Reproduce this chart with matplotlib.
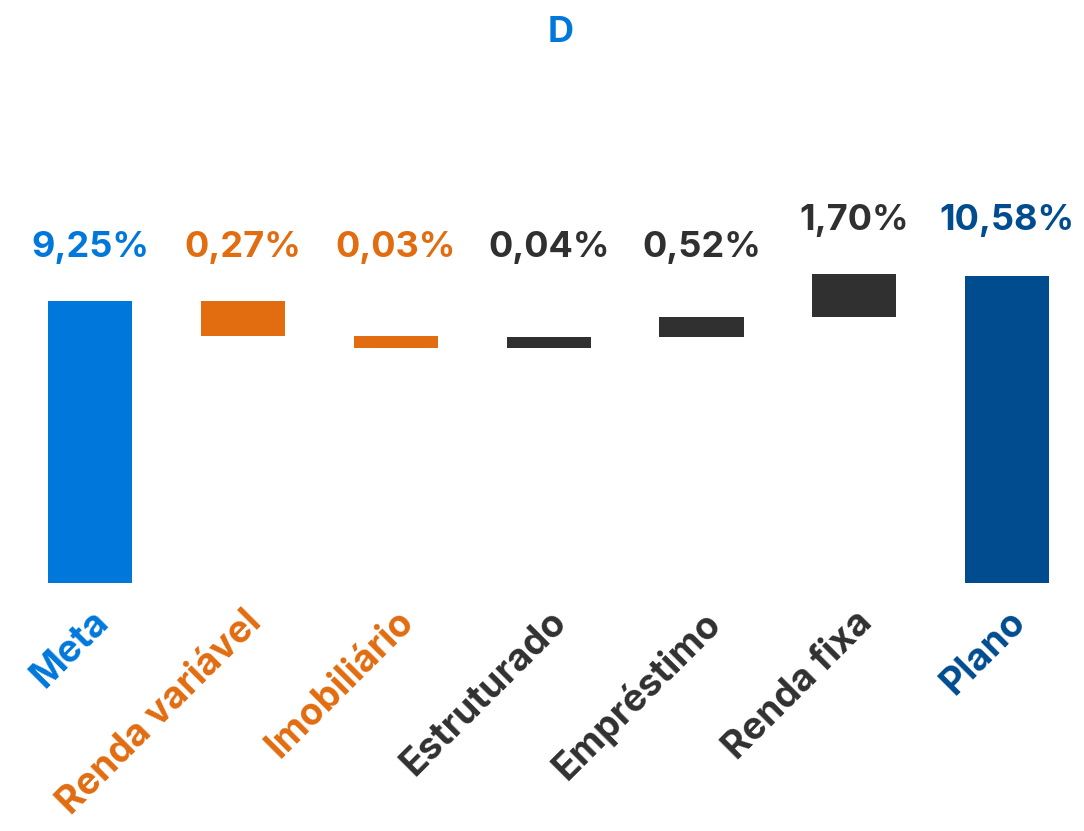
import matplotlib.pyplot as plt
import numpy as np

# ----- data -----
categories = ["Meta", "Renda variável", "Imobiliário", "Estruturado",
              "Empréstimo", "Renda fixa", "Plano"]
value_labels = ["9,25%", "0,27%", "0,03%", "0,04%", "0,52%", "1,70%", "10,58%"]
meta_bar = 9.25
steps = [-1.16, -0.37, 0.34, 0.67, 1.39]   # bar heights as drawn
plano_bar = 10.07
colors = ["#0077DB", "#E26C10", "#E26C10", "#303030", "#303030", "#303030", "#004C8F"]

plt.rcParams['font.family'] = ['Inter', 'DejaVu Sans']
plt.rcParams['font.weight'] = 'bold'

fig = plt.figure(figsize=(10.84, 8.31), dpi=100)
ax = fig.add_axes([0, 248 / 831, 1, 583 / 831])

x = np.arange(len(categories))
bottoms = [0]
heights = [meta_bar]
level = meta_bar
for s in steps:
    bottoms.append(min(level, level + s))
    heights.append(abs(s))
    level += s
bottoms.append(0)
heights.append(plano_bar)

ax.bar(x, heights, bottom=bottoms, width=0.55, color=colors)

# labels above the highest bar reached so far
tops = [b + h for b, h in zip(bottoms, heights)]
run_max = np.maximum.accumulate(tops)
for xi, yi, txt, c in zip(x, run_max, value_labels, colors):
    ax.annotate(txt, (xi, yi), xytext=(0, 32), textcoords="offset points",
                ha="center", va="baseline", fontsize=26, color=c, fontweight="bold")

ax.set_xlim(-90.3 / 152.8, (1084 - 90.3) / 152.8)
ax.set_ylim(0, 583 / 30.49)
ax.set_xticks(x)
ax.set_xticklabels(categories, rotation=45, ha="right", va="top",
                   rotation_mode="anchor", fontsize=27, fontweight="bold")
for lab, c in zip(ax.get_xticklabels(), colors):
    lab.set_color(c)
ax.tick_params(axis="x", length=0, pad=15)
ax.set_yticks([])
for sp in ax.spines.values():
    sp.set_visible(False)

fig.text(561 / 1084, 1 - 33 / 831, "D", ha="center", va="center",
         fontsize=26, fontweight="bold", color="#0077DB")

fig.savefig("out.png", dpi=100)
